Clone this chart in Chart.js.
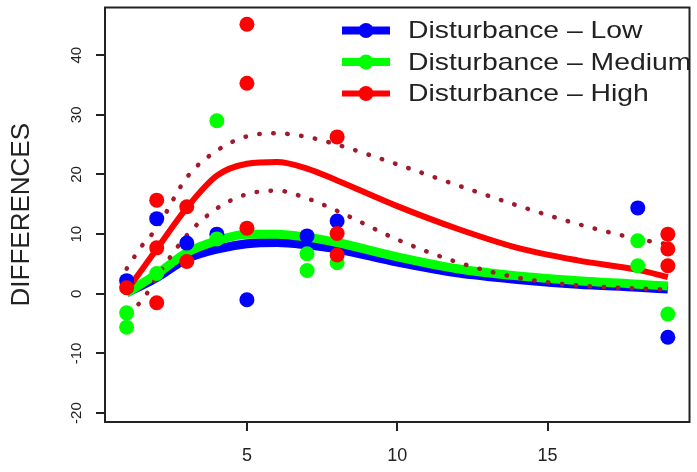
<!DOCTYPE html>
<html>
<head>
<meta charset="utf-8">
<script src="https://cdn.jsdelivr.net/npm/chart.js@4.4.1/dist/chart.umd.min.js"></script>
<style>
  html, body { margin: 0; padding: 0; background: #fff; }
  #wrap { width: 697px; height: 472px; }
</style>
</head>
<body>
<div id="wrap"><canvas id="chart" width="697" height="472"></canvas></div>
<script>
var seriesNames = ['Disturbance – Low', 'Disturbance – Medium', 'Disturbance – High'];
var seriesColors = ['#0000ff', '#00ff00', '#ff0000'];
var bandColor = '#a01a2c';

// observed differences per disturbance level
var lowX  = [1, 2, 3, 4, 5, 7, 8, 18, 19];
var lowY  = [2.2, 12.6, 8.5, 10, -1, 9.7, 12.2, 14.4, -7.3];
var medX  = [1, 1, 2, 4, 4, 7, 7, 8, 18, 18, 19];
var medY  = [-3.2, -5.6, 3.4, 29, 9.2, 6.7, 3.9, 5.2, 8.9, 4.7, -3.4];
var highX = [1, 2, 2, 2, 3, 3, 5, 5, 5, 8, 8, 8, 19, 19, 19];
var highY = [1.0, 15.7, 7.7, -1.5, 14.6, 5.4, 45.2, 35.3, 11.0, 26.3, 10.1, 6.5, 10.0, 7.5, 4.7];

// fitted curves and the confidence band for the high level
var fitX     = [1, 1.5, 2, 3, 4, 5, 6, 7, 8, 10, 12, 14, 16, 18, 19];
var fitLow   = [0.2, 1.4, 2.7, 5.9, 7.5, 8.4, 8.6, 8.2, 7.5, 5.3, 3.5, 2.4, 1.6, 1.1, 0.8];
var fitMed   = [0.1, 1.7, 3.3, 6.9, 8.9, 10, 10, 9.5, 8.6, 6.2, 4.2, 3.0, 2.2, 1.6, 1.3];
var fitHigh  = [0.5, 4.0, 7.5, 14.4, 19.8, 21.8, 22.1, 21.0, 19.0, 14.7, 10.9, 7.7, 5.6, 4.0, 2.8];
var bandUp   = [4.2, 8.0, 11.0, 19.5, 24.0, 26.4, 26.9, 26.3, 25.0, 21.7, 18.2, 14.8, 11.7, 9.2, 8.3];
var bandLow  = [-3.0, -1.2, 2.8, 9.8, 14.3, 16.7, 17.3, 16.0, 13.9, 9.1, 5.3, 2.7, 1.4, 0.9, 0.7];

var yMin = -21.5, yMax = 48;
var xMin = 0.28, xMax = 19.72;

function pts(xs, ys) {
  return xs.map(function (x, i) { return { x: x, y: ys[i] }; });
}

function pointSet(i, xs, ys, order) {
  return {
    label: seriesNames[i],
    data: pts(xs, ys),
    backgroundColor: seriesColors[i],
    borderWidth: 0,
    pointRadius: 7.5,
    order: order
  };
}

function curve(ys, color, width, order, dash) {
  return {
    data: pts(fitX, ys),
    showLine: true,
    borderColor: color,
    borderWidth: width,
    borderDash: dash || [],
    borderCapStyle: dash ? 'round' : 'butt',
    pointRadius: 0,
    fill: false,
    cubicInterpolationMode: 'monotone',
    order: order
  };
}

// box around the plotting region
var boxPlugin = {
  id: 'box',
  afterDatasetsDraw: function (chart) {
    var a = chart.chartArea, ctx = chart.ctx;
    ctx.save();
    ctx.strokeStyle = '#222';
    ctx.lineWidth = 2;
    ctx.strokeRect(a.left, a.top, a.right - a.left, a.bottom - a.top);
    ctx.restore();
  }
};

// legend drawn inside the plot, top right, line + dot per row
var legendPlugin = {
  id: 'innerLegend',
  afterDraw: function (chart) {
    var a = chart.chartArea, ctx = chart.ctx;
    var widths = [8, 8, 6];
    ctx.save();
    for (var i = 0; i < seriesNames.length; i++) {
      var y = a.top + 23 + i * 31.5;
      var x0 = a.left + 237, x1 = a.left + 285;
      ctx.strokeStyle = seriesColors[i];
      ctx.lineWidth = widths[i];
      ctx.beginPath();
      ctx.moveTo(x0, y);
      ctx.lineTo(x1, y);
      ctx.stroke();
      ctx.fillStyle = seriesColors[i];
      ctx.beginPath();
      ctx.arc((x0 + x1) / 2, y, 7.5, 0, Math.PI * 2);
      ctx.fill();

      ctx.save();
      ctx.translate(a.left + 303, y + 1);
      ctx.scale(1.18, 1);
      ctx.fillStyle = '#222';
      ctx.font = '24px "Liberation Sans", Arial, sans-serif';
      ctx.textBaseline = 'middle';
      ctx.fillText(seriesNames[i], 0, 0);
      ctx.restore();
    }
    ctx.restore();
  }
};

var tickGrid = {
  drawOnChartArea: false,
  drawTicks: true,
  tickLength: 9,
  color: '#222',
  lineWidth: 2
};

new Chart(document.getElementById('chart'), {
  type: 'scatter',
  data: {
    datasets: [
      pointSet(2, highX, highY, 1),
      pointSet(1, medX, medY, 2),
      pointSet(0, lowX, lowY, 3),
      curve(bandUp, bandColor, 4.5, 4, [0.5, 13.5]),
      curve(bandLow, bandColor, 4.5, 4, [0.5, 13.5]),
      curve(fitHigh, seriesColors[2], 6, 5),
      curve(fitMed, seriesColors[1], 9, 6),
      curve(fitLow, seriesColors[0], 9, 7)
    ]
  },
  options: {
    responsive: false,
    animation: false,
    events: [],
    layout: { padding: { top: 7, right: 2, left: 0, bottom: 0 } },
    font: { family: '"Liberation Sans", Arial, sans-serif' },
    plugins: {
      legend: { display: false },
      tooltip: { enabled: false }
    },
    scales: {
      x: {
        type: 'linear',
        min: xMin,
        max: xMax,
        grid: tickGrid,
        border: { display: false },
        ticks: {
          stepSize: 5,
          includeBounds: false,
          maxRotation: 0,
          padding: 14,
          color: '#222',
          font: { size: 18 }
        },
        afterFit: function (s) {
          s.height = 50;
          s.paddingLeft = 0;
          s.paddingRight = 0;
        }
      },
      y: {
        min: yMin,
        max: yMax,
        grid: tickGrid,
        border: { display: false },
        ticks: {
          stepSize: 10,
          includeBounds: false,
          minRotation: 90,
          maxRotation: 90,
          crossAlign: 'center',
          padding: 8,
          color: '#222',
          font: { size: 15 }
        },
        title: {
          display: true,
          text: 'DIFFERENCES',
          color: '#222',
          font: { size: 26 },
          padding: { top: 6, bottom: 0 }
        },
        afterFit: function (s) {
          s.width = 105;
          s.paddingTop = 0;
          s.paddingBottom = 0;
        }
      }
    }
  },
  plugins: [boxPlugin, legendPlugin]
});
</script>
</body>
</html>
